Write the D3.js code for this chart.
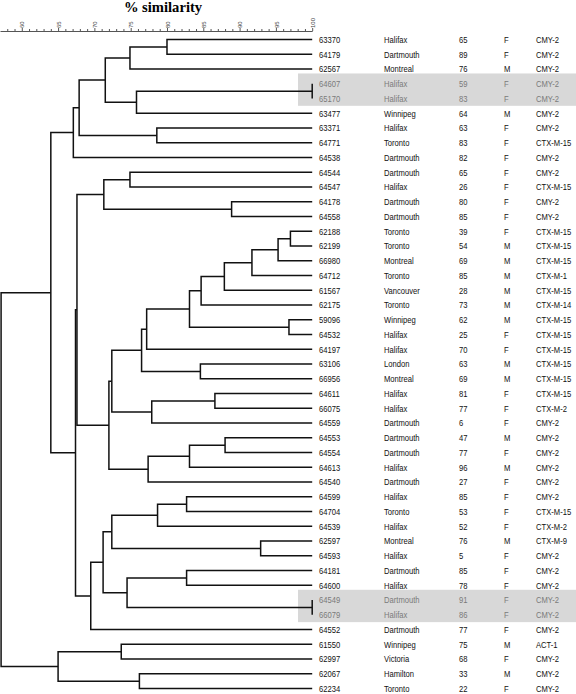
<!DOCTYPE html>
<html><head><meta charset="utf-8">
<script src="https://cdn.jsdelivr.net/npm/d3@7"></script>
<style>
html,body{margin:0;padding:0;background:#fff;}
svg{display:block;}
.lbl{font-family:"Liberation Sans",Arial,sans-serif;font-size:9.3px;fill:#111;}
</style></head><body>
<svg id="chart" width="576" height="694"></svg>
<script>
// ---- data ----
const isolates = ["63370","64179","62567","64607","65170","63477","63371","64771","64538","64544","64547","64178","64558","62188","62199","66980","64712","61567","62175","59096","64532","64197","63106","66956","64611","66075","64559","64553","64554","64613","64540","64599","64704","64539","62597","64593","64181","64600","64549","66079","64552","61550","62997","62067","62234"];
const locations = ["Halifax","Dartmouth","Montreal","Halifax","Halifax","Winnipeg","Halifax","Toronto","Dartmouth","Dartmouth","Halifax","Dartmouth","Dartmouth","Toronto","Toronto","Montreal","Toronto","Vancouver","Toronto","Winnipeg","Halifax","Halifax","London","Montreal","Halifax","Halifax","Dartmouth","Dartmouth","Dartmouth","Halifax","Dartmouth","Halifax","Toronto","Halifax","Montreal","Halifax","Dartmouth","Halifax","Dartmouth","Halifax","Dartmouth","Winnipeg","Victoria","Hamilton","Toronto"];
const ages = [65,89,76,59,83,64,63,83,82,65,26,80,85,39,54,69,85,28,73,62,25,70,63,69,81,77,6,47,77,96,27,85,53,52,76,5,85,78,91,86,77,75,68,33,22];
const sexes = ["F","F","M","F","F","M","F","F","F","F","F","F","F","F","M","M","M","M","M","M","F","F","M","M","F","F","F","M","F","M","F","F","F","F","M","F","F","F","F","F","F","M","F","M","F"];
const betaLactamases = ["CMY-2","CMY-2","CMY-2","CMY-2","CMY-2","CMY-2","CMY-2","CTX-M-15","CMY-2","CMY-2","CTX-M-15","CMY-2","CMY-2","CTX-M-15","CTX-M-15","CTX-M-15","CTX-M-1","CTX-M-15","CTX-M-14","CTX-M-15","CTX-M-15","CTX-M-15","CTX-M-15","CTX-M-15","CTX-M-15","CTX-M-2","CMY-2","CMY-2","CMY-2","CMY-2","CMY-2","CMY-2","CTX-M-15","CTX-M-2","CTX-M-9","CMY-2","CMY-2","CMY-2","CMY-2","CMY-2","CMY-2","ACT-1","CMY-2","CMY-2","CMY-2"];
const shadedRows = [[3,4],[38,39]];
// merges: [childA, childB, % similarity]; leaves are 0..44, merge k becomes node 45+k
const merges = [
  [3,4,100],[0,1,80.0],[46,2,74.9],[45,5,75.8],[47,48,71.5],[6,7,78.6],[49,50,67.9],[51,8,67.1],
  [9,10,74.9],[11,12,88.9],[53,54,71.3],
  [13,14,97.0],[56,15,95.3],[57,16,91.7],[58,17,87.9],[59,18,84.7],[19,20,96.8],[60,61,83.1],[62,21,77.2],
  [22,23,84.6],[63,64,76.5],[24,25,86.6],[66,26,77.9],[65,67,72.4],
  [27,28,88.0],[69,29,83.1],[70,30,77.4],[68,71,72.0],[55,72,67.6],
  [31,32,82.7],[74,33,78.7],[34,35,92.9],[75,76,72.4],[36,37,82.7],[38,39,100],[78,79,74.5],[77,80,71.2],[81,40,69.5],
  [73,82,67.4],[52,83,64.0],
  [41,42,73.7],[43,44,76.2],[85,86,65.0],[84,87,57.15]
];
const axisMajorTicks = [60,65,70,75,80,85,90,95,100];
const axisMinorTicks = [58,59,61,62,63,64,66,67,68,69,71,72,73,74,76,77,78,79,81,82,83,84,86,87,88,89,91,92,93,94,96,97,98,99];
const axisTitle = "% similarity";

// ---- chart ----
const svg = d3.select("#chart");
const x = d3.scaleLinear().domain([57,100]).range([0,312.2]);
const y = d3.scaleLinear().domain([0,isolates.length-1]).range([39.5,688.6]);

const nodes = isolates.map((id,i)=>({name:id,row:i,sim:100}));
merges.forEach(([a,b,s])=>nodes.push({children:[nodes[a],nodes[b]],sim:s}));
const root = d3.hierarchy(nodes[nodes.length-1]);
root.eachAfter(d=>{
  d.py = d.children ? d3.mean(d.children,c=>c.py) : y(d.data.row);
  d.px = x(d.data.sim);
});

// shaded bands
svg.append("g").selectAll("rect").data(shadedRows).join("rect")
  .attr("x",298).attr("width",278)
  .attr("y",d=>y(d[0])-10.3).attr("height",d=>y(d[1])-y(d[0])+17.6)
  .attr("fill","#d8d8d8");

// title
svg.append("text").attr("x",163).attr("y",11.5).attr("text-anchor","middle")
  .style("font-family","'Liberation Serif','Times New Roman',serif").style("font-weight","bold").style("font-size","14.6px")
  .text(axisTitle);

// axis
const gAxis = svg.append("g").attr("transform","translate(0,31)");
gAxis.call(d3.axisTop(x).tickValues(axisMinorTicks).tickSize(2).tickSizeOuter(0).tickFormat(""));
const gMaj = svg.append("g").attr("transform","translate(0,31)");
gMaj.call(d3.axisTop(x).tickValues(axisMajorTicks).tickSize(3).tickSizeOuter(0));
gMaj.select(".domain").remove();
gAxis.selectAll("path,line").attr("stroke","#555");
gMaj.selectAll("line").attr("stroke","#555");
gMaj.selectAll("text").attr("transform","rotate(-90)").attr("x",3).attr("y",0).attr("dy","0.35em")
  .attr("text-anchor","start").style("font-family","'Liberation Sans',Arial,sans-serif").style("font-size","6px").attr("fill","#444");

// tree
const internal = root.descendants().filter(d=>d.children);
svg.append("g").attr("fill","none").attr("stroke","#111").attr("stroke-width",1.5)
  .selectAll("path").data(internal).join("path")
  .attr("d",d=>{const [a,b]=d.children;return `M${a.px},${a.py}H${d.px}V${b.py}H${b.px}`;});

// labels
const shaded = new Set(shadedRows.flat());
const cols = [[319,isolates],[384,locations],[459,ages],[504,sexes],[536,betaLactamases]];
const gl = svg.append("g");
cols.forEach(([cx,arr])=>{
  gl.append("g").selectAll("text").data(arr).join("text").attr("class","lbl")
    .attr("transform",(d,i)=>`translate(${cx},${y(i)}) scale(0.82,1)`)
    .attr("dy","0.35em")
    .style("fill",(d,i)=>shaded.has(i)?"#7a7a7a":"#111")
    .text(d=>d);
});
</script>
</body></html>
